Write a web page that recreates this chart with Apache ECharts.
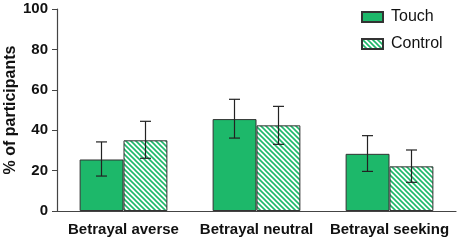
<!DOCTYPE html>
<html>
<head>
<meta charset="utf-8">
<script src="https://cdn.jsdelivr.net/npm/echarts@6/dist/echarts.min.js"></script>
<style>
  html, body { margin: 0; padding: 0; background: #fff; }
  #chart { width: 459px; height: 240px; }
</style>
</head>
<body>
<div id="chart"></div>
<script>
const categories = ['Betrayal averse', 'Betrayal neutral', 'Betrayal seeking'];
const touchValues = [25.5, 45.5, 28.3];
const touchLow = [17.3, 36.1, 19.6];
const touchHigh = [34.2, 55.3, 37.3];
const controlValues = [35.0, 42.4, 22.1];
const controlLow = [26.1, 33.0, 14.2];
const controlHigh = [44.4, 51.8, 30.2];
const yTicks = [0, 20, 40, 60, 80, 100];

const green = '#1db86a';

// diagonal hatch for the control bars
function hatch() {
  const c = document.createElement('canvas');
  c.width = 5; c.height = 5;
  const ctx = c.getContext('2d');
  ctx.fillStyle = '#fff';
  ctx.fillRect(0, 0, 5, 5);
  ctx.strokeStyle = green;
  ctx.lineWidth = 1.6;
  ctx.beginPath();
  ctx.moveTo(-1, -1); ctx.lineTo(6, 6);
  ctx.moveTo(-1, 4); ctx.lineTo(1, 6);
  ctx.moveTo(4, -1); ctx.lineTo(6, 1);
  ctx.stroke();
  return c;
}
const hatchFill = { image: hatch(), repeat: 'repeat' };

function errorSeries(low, high, offset) {
  return {
    type: 'custom',
    z: 10,
    silent: true,
    data: categories.map((c, i) => [i, low[i], high[i]]),
    renderItem: (params, api) => {
      const lo = api.coord([api.value(0), api.value(1)]);
      const hi = api.coord([api.value(0), api.value(2)]);
      const x = lo[0] + offset;
      const w = 5.5;
      const style = { stroke: '#222', lineWidth: 1.2 };
      return {
        type: 'group',
        children: [
          { type: 'line', shape: { x1: x, y1: lo[1], x2: x, y2: hi[1] }, style },
          { type: 'line', shape: { x1: x - w, y1: lo[1], x2: x + w, y2: lo[1] }, style },
          { type: 'line', shape: { x1: x - w, y1: hi[1], x2: x + w, y2: hi[1] }, style }
        ]
      };
    }
  };
}

const chart = echarts.init(document.getElementById('chart'));
const option = {
  animation: false,
  textStyle: { fontFamily: 'Liberation Sans, Arial, sans-serif' },
  grid: { left: 57, right: 3, top: 9, bottom: 29, containLabel: false, outerBoundsMode: 'none' },
  legend: {
    orient: 'vertical',
    left: 356,
    top: 4,
    icon: 'rect',
    itemWidth: 21,
    itemHeight: 10,
    itemGap: 11,
    textStyle: { fontSize: 16, color: '#111', padding: [0, 0, 0, 3] },
    data: ['Touch', 'Control']
  },
  xAxis: {
    type: 'category',
    data: categories,
    axisLine: { lineStyle: { color: '#444', width: 1.2 } },
    axisTick: { show: false },
    axisLabel: { interval: 0, fontSize: 15, fontWeight: 'bold', color: '#111', margin: 11 }
  },
  yAxis: {
    type: 'value',
    min: 0,
    max: 100,
    interval: 20,
    name: '% of participants',
    nameLocation: 'middle',
    nameGap: 38,
    nameMoveOverlap: false,
    nameTextStyle: { fontSize: 16, fontWeight: 'bold', color: '#111' },
    splitLine: { show: false },
    axisLine: { show: true, lineStyle: { color: '#444', width: 1.2 } },
    axisTick: { show: true, length: 5, lineStyle: { color: '#444' } },
    axisLabel: {
      fontSize: 15, fontWeight: 'bold', color: '#111', margin: 9,
      formatter: v => yTicks.includes(v) ? String(v) : ''
    }
  },
  series: [
    {
      name: 'Touch',
      type: 'bar',
      data: touchValues,
      barGap: '0%',
      barCategoryGap: '34%',
      itemStyle: { color: green, borderColor: '#333', borderWidth: 1 }
    },
    {
      name: 'Control',
      type: 'bar',
      data: controlValues,
      itemStyle: { color: hatchFill, borderColor: '#333', borderWidth: 1 }
    },
    errorSeries(touchLow, touchHigh, -22),
    errorSeries(controlLow, controlHigh, 22)
  ]
};
chart.setOption(option);
</script>
</body>
</html>
